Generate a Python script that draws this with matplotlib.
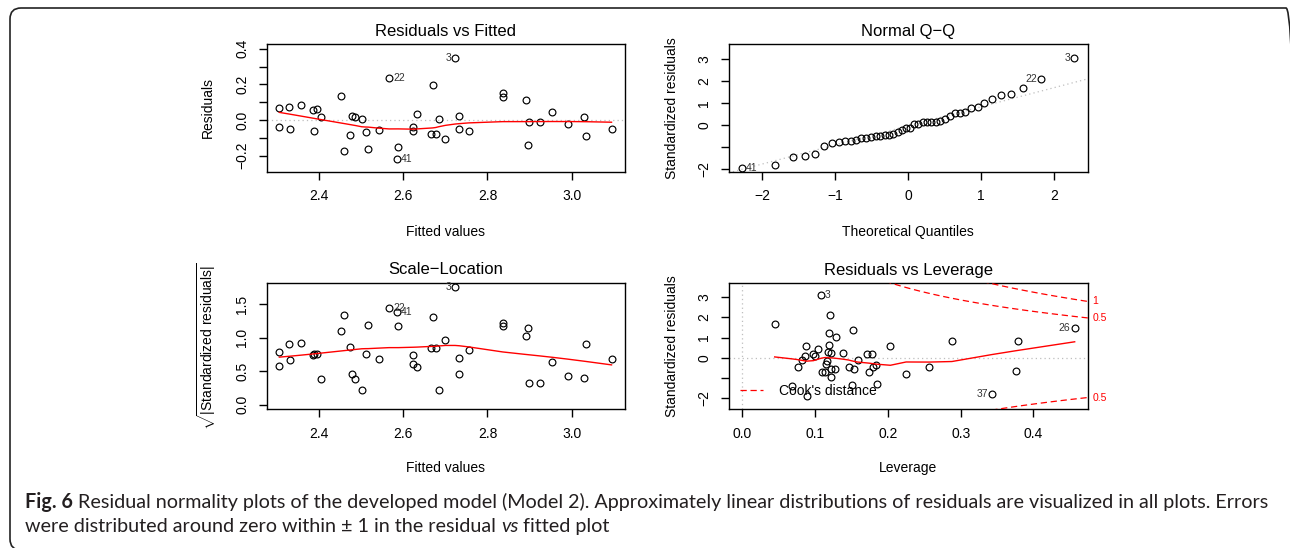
import numpy as np
import matplotlib
matplotlib.use("Agg")
import matplotlib.pyplot as plt
from matplotlib.patches import FancyBboxPatch
from matplotlib.transforms import IdentityTransform
from matplotlib.ticker import FixedLocator, FixedFormatter
from matplotlib.lines import Line2D
from statistics import NormalDist

W, H = 1290, 548
plt.rcParams['font.family'] = ['Liberation Sans', 'DejaVu Sans']
plt.rcParams['mathtext.fontset'] = 'custom'
plt.rcParams['mathtext.rm'] = 'Liberation Sans'
plt.rcParams['mathtext.it'] = 'Liberation Sans:italic'

# ---------------- data ----------------
fitted = [2.305, 2.305, 2.329, 2.330, 2.356, 2.386, 2.395, 2.387, 2.405, 2.452,
          2.459, 2.472, 2.477, 2.486, 2.501, 2.510, 2.516, 2.541, 2.566, 2.588,
          2.585, 2.624, 2.624, 2.632, 2.670, 2.666, 2.677, 2.684, 2.700, 2.723,
          2.733, 2.733, 2.755, 2.836, 2.837, 2.891, 2.899, 2.897, 2.925, 2.953,
          2.991, 3.030, 3.035, 3.095]
residuals = [0.066, -0.039, 0.073, -0.052, 0.084, 0.058, 0.064, -0.064, 0.017, 0.137,
             -0.174, -0.084, 0.024, 0.019, 0.004, -0.066, -0.165, -0.056, 0.236, -0.154,
             -0.221, -0.041, -0.064, 0.034, 0.199, -0.081, -0.079, 0.004, -0.107, 0.350,
             0.022, -0.052, -0.064, 0.150, 0.129, 0.114, -0.013, -0.142, -0.011, 0.045,
             -0.022, 0.017, -0.088, -0.051]
sqrt_abs_std_resid = [0.78, 0.57, 0.90, 0.67, 0.92, 0.74, 0.75, 0.75, 0.39, 1.10,
                      1.34, 0.86, 0.46, 0.39, 0.22, 0.76, 1.19, 0.68, 1.44, 1.18,
                      1.38, 0.61, 0.74, 0.56, 1.31, 0.85, 0.85, 0.22, 0.97, 1.75,
                      0.46, 0.69, 0.81, 1.22, 1.18, 1.02, 0.33, 1.15, 0.33, 0.64,
                      0.42, 0.40, 0.91, 0.68]
qq_std_resid = [-1.92, -1.79, -1.42, -1.38, -1.30, -0.92, -0.82, -0.74, -0.71, -0.71,
                -0.67, -0.59, -0.56, -0.55, -0.48, -0.47, -0.45, -0.44, -0.38, -0.32,
                -0.21, -0.14, -0.11, 0.05, 0.06, 0.14, 0.14, 0.14, 0.17, 0.18,
                0.29, 0.41, 0.56, 0.56, 0.59, 0.80, 0.83, 1.00, 1.20, 1.36,
                1.44, 1.70, 2.09, 3.05]
leverage = [0.0444, 0.0683, 0.0760, 0.0820, 0.0857, 0.0875, 0.0884, 0.0977, 0.1000, 0.1040,
            0.1077, 0.1090, 0.1136, 0.1150, 0.1163, 0.1180, 0.1186, 0.1196, 0.1200, 0.1214,
            0.1214, 0.1218, 0.1278, 0.1290, 0.1383, 0.1460, 0.1500, 0.1516, 0.1540, 0.1590,
            0.1710, 0.1745, 0.1780, 0.1790, 0.1830, 0.1850, 0.2034, 0.2250, 0.2570, 0.2880,
            0.3430, 0.3765, 0.3790, 0.4567]
lev_std_resid = [1.69, -1.40, -0.46, -0.13, 0.07, 0.59, -1.91, 0.16, 0.07, 0.43,
                 3.09, -0.71, -0.71, -0.33, -0.16, 0.30, 0.63, 1.20, 2.09, 0.21,
                 -0.54, -0.94, -0.54, 1.04, 0.21, -0.44, -1.37, 1.37, -0.54, -0.10,
                 0.16, -0.71, 0.16, -0.46, -0.36, -1.28, 0.58, -0.81, -0.46, 0.84,
                 -1.79, -0.64, 0.81, 1.45]

# identified observations (index into the arrays above, label)
rvf_id_idx, rvf_id_txt = [29, 18, 20], ["3", "22", "41"]
qq_id_idx, qq_id_txt = [43, 42, 0], ["3", "22", "41"]
sl_id_idx, sl_id_txt = [29, 18, 20], ["3", "22", "41"]
lev_id_idx, lev_id_txt = [10, 40, 43], ["3", "37", "26"]

n_params = 7
cook_levels = [0.5, 1.0]

titles = ["Residuals vs Fitted", "Normal Q\u2212Q", "Scale\u2212Location", "Residuals vs Leverage"]
xlabels = ["Fitted values", "Theoretical Quantiles", "Fitted values", "Leverage"]
ylabels = ["Residuals", "Standardized residuals",
           r"$\sqrt{|\mathrm{Standardized\ residuals}|}$", "Standardized residuals"]

fit_xticks = [2.4, 2.6, 2.8, 3.0]
fit_xticklabels = ["2.4", "2.6", "2.8", "3.0"]
rvf_yticks = [-0.2, -0.1, 0.0, 0.1, 0.2, 0.3, 0.4]
rvf_yticklabels = ["\u22120.2", "", "0.0", "", "0.2", "", "0.4"]
qq_xticks = [-2, -1, 0, 1, 2]
qq_xticklabels = ["\u22122", "\u22121", "0", "1", "2"]
std_yticks = [-2, -1, 0, 1, 2, 3]
std_yticklabels = ["\u22122", "", "0", "1", "2", "3"]
sl_yticks = [0.0, 0.5, 1.0, 1.5]
sl_yticklabels = ["0.0", "0.5", "1.0", "1.5"]
lev_xticks = [0.0, 0.1, 0.2, 0.3, 0.4]
lev_xticklabels = ["0.0", "0.1", "0.2", "0.3", "0.4"]

caption_bold = "Fig. 6"
caption_line1 = (" Residual normality plots of the developed model (Model 2). Approximately linear "
                 "distributions of residuals are visualized in all plots. Errors")
caption_line2 = ["were distributed around zero within \u00b1 1 in the residual ", "vs", " fitted plot"]


# ---------------- helpers ----------------
def lowess(x, y, f=2/3, iters=3):
    x = np.asarray(x, float); y = np.asarray(y, float)
    o = np.argsort(x, kind="stable"); x = x[o]; y = y[o]
    n = len(x)
    ns = max(min(int(f * n + 1e-7), n), 2)
    rw = np.ones(n)
    ys = np.zeros(n)
    rng = x[-1] - x[0]
    for it in range(iters + 1):
        for i in range(n):
            d = np.abs(x - x[i])
            h = np.sort(d)[ns - 1]
            if h > 0:
                r = d / h
                w = np.where(r <= 0.999, (1 - r ** 3) ** 3, 0.0)
                w[r <= 0.001] = 1.0
            else:
                w = (d == 0).astype(float)
            w = w * rw
            if w.sum() <= 0:
                ys[i] = y[i]
                continue
            w = w / w.sum()
            a = np.sum(w * x)
            b = np.sum(w * (x - a) ** 2)
            if np.sqrt(b) > 0.001 * rng:
                ww = w * ((x[i] - a) / b * (x - a) + 1)
            else:
                ww = w
            ys[i] = np.sum(ww * y)
        if it == iters:
            break
        res = y - ys
        cmad = 6 * np.median(np.abs(res))
        if cmad < 1e-7 * np.mean(np.abs(y)):
            break
        r = np.abs(res) / cmad
        rw = np.where(r <= 0.999, (1 - r ** 2) ** 2, 0.0)
        rw[r <= 0.001] = 1.0
    return x, ys


fig = plt.figure(figsize=(W / 100, H / 100), dpi=100)
fig.patch.set_facecolor("white")

COL = [(266.7, 625.0), (728.7, 1088.0)]
ROW = [(44.3, 171.7), (282.5, 409.3)]
TITLE_Y = [31.7, 270.0]
XLAB_Y = [231.7, 468.3]
YLAB_X = [208.3, 671.7]


def fx(px):
    return px / W


def fy(py):
    return 1 - py / H


def make_axes(r, c):
    l, rr = COL[c]
    t, b = ROW[r]
    ax = fig.add_axes([fx(l), fy(b), (rr - l) / W, (b - t) / H])
    for s in ax.spines.values():
        s.set_linewidth(1.0)
        s.set_color("black")
    ax.tick_params(direction="out", length=6, width=1.0, labelsize=10, pad=6.5, color="black")
    ax.tick_params(axis="y", labelrotation=90)
    cx = (l + rr) / 2
    fig.text(fx(cx), fy(TITLE_Y[r]), titles[2 * r + c], ha="center", va="center", fontsize=12)
    fig.text(fx(cx), fy(XLAB_Y[r]), xlabels[2 * r + c], ha="center", va="center", fontsize=10)
    fig.text(fx(YLAB_X[c] - (2 if (r, c) == (1, 0) else 0)), fy((t + b) / 2), ylabels[2 * r + c],
             ha="center", va="center", rotation=90, fontsize=10)
    return ax


def set_ticks(ax, xt, xl, yt, yl):
    ax.xaxis.set_major_locator(FixedLocator(xt))
    ax.xaxis.set_major_formatter(FixedFormatter(xl))
    ax.yaxis.set_major_locator(FixedLocator(yt))
    ax.yaxis.set_major_formatter(FixedFormatter(yl))
    for lab in ax.get_yticklabels():
        lab.set_verticalalignment("center")


def points(ax, x, y):
    ax.plot(x, y, ls="none", marker="o", ms=4.9, mfc="none", mec="black", mew=0.85, zorder=3)


def id_labels(ax, x, y, idx, txt):
    x = np.asarray(x); y = np.asarray(y)
    mid = (x.min() + x.max()) / 2
    for i, t in zip(idx, txt):
        right = x[i] <= mid
        ax.annotate(t, (x[i], y[i]), xytext=(3.0 if right else -3.0, 0), textcoords="offset points",
                    ha="left" if right else "right", va="center", fontsize=7.5, color="#333333",
                    annotation_clip=False, zorder=5)


def dotted():
    return dict(color="#BEBEBE", lw=0.9, dashes=(1, 2.5), zorder=1)


RED = "#FF0000"

# ---- panel 1: Residuals vs Fitted ----
ax1 = make_axes(0, 0)
ax1.axhline(0, **dotted())
points(ax1, fitted, residuals)
lx, ly = lowess(fitted, residuals)
ax1.plot(lx, ly, color=RED, lw=1.0, zorder=4)
id_labels(ax1, fitted, residuals, rvf_id_idx, rvf_id_txt)
ax1.set_xlim(2.275, 3.127)
ax1.set_ylim(-0.2905, 0.4255)
set_ticks(ax1, fit_xticks, fit_xticklabels, rvf_yticks, rvf_yticklabels)

# ---- panel 2: Normal Q-Q ----
ax2 = make_axes(0, 1)
n = len(qq_std_resid)
theo = np.array([NormalDist().inv_cdf((i + 0.5) / n) for i in range(n)])
samp = np.sort(np.asarray(qq_std_resid))
q_y = np.percentile(samp, [25, 75])
q_x = np.array([NormalDist().inv_cdf(0.25), NormalDist().inv_cdf(0.75)])
slope = (q_y[1] - q_y[0]) / (q_x[1] - q_x[0])
inter = q_y[0] - slope * q_x[0]
ax2.axline((0, inter), slope=slope, **dotted())
points(ax2, theo, samp)
id_labels(ax2, theo, samp, qq_id_idx, qq_id_txt)
ax2.set_xlim(-2.457, 2.466)
ax2.set_ylim(-2.106, 3.68)
set_ticks(ax2, qq_xticks, qq_xticklabels, std_yticks, std_yticklabels)

# ---- panel 3: Scale-Location ----
ax3 = make_axes(1, 0)
points(ax3, fitted, sqrt_abs_std_resid)
lx, ly = lowess(fitted, sqrt_abs_std_resid)
ax3.plot(lx, ly, color=RED, lw=1.0, zorder=4)
id_labels(ax3, fitted, sqrt_abs_std_resid, sl_id_idx, sl_id_txt)
ax3.set_xlim(2.275, 3.127)
ax3.set_ylim(-0.07, 1.824)
set_ticks(ax3, fit_xticks, fit_xticklabels, sl_yticks, sl_yticklabels)

# ---- panel 4: Residuals vs Leverage ----
ax4 = make_axes(1, 1)
xlim4 = (-0.0188, 0.475)
ax4.set_xlim(*xlim4)
ax4.set_ylim(-2.55, 3.72)
points(ax4, leverage, lev_std_resid)
lx, ly = lowess(leverage, lev_std_resid)
ax4.plot(lx, ly, color=RED, lw=1.0, zorder=4)
ax4.axhline(0, **dotted())
ax4.axvline(0, **dotted())
lev_arr = np.asarray(leverage)
hh = np.linspace(min(lev_arr.min(), lev_arr.max() / 100), xlim4[1], 101)
for crit in cook_levels:
    cl = np.sqrt(crit * n_params * (1 - hh) / hh)
    ax4.plot(hh, cl, color=RED, lw=0.9, dashes=(5, 3), zorder=4)
    ax4.plot(hh, -cl, color=RED, lw=0.9, dashes=(5, 3), zorder=4)
xmax = min(0.99, xlim4[1])
ymult = np.sqrt(n_params * (1 - xmax) / xmax)
ylo, yhi = ax4.get_ylim()
for crit in cook_levels:
    for sgn in (-1, 1):
        yv = sgn * np.sqrt(crit) * ymult
        if ylo <= yv <= yhi:
            ax4.annotate(f"{crit:g}", xy=(1, yv), xycoords=("axes fraction", "data"),
                         xytext=(3, 0), textcoords="offset points", ha="left", va="center",
                         fontsize=7.5, color=RED, annotation_clip=False)
leg = ax4.legend([Line2D([], [], color=RED, lw=0.9, dashes=(5, 3))], ["Cook's distance"],
                 loc="lower left", frameon=False, fontsize=10, handlelength=1.65,
                 handletextpad=1.15, borderaxespad=0.0, borderpad=0.84)
leg.set_zorder(6)
id_labels(ax4, leverage, lev_std_resid, lev_id_idx, lev_id_txt)
set_ticks(ax4, lev_xticks, lev_xticklabels, std_yticks, std_yticklabels)

# ---------------- caption ----------------
CAP_FONT = ["Lato", "DejaVu Sans"]
CAP_COL = "#231F20"
x0, base1, base2 = 25.0, 507.7, 532.3
target_w = 1238.0
renderer = fig.canvas.get_renderer()


def chain(segments, y_px, size):
    arts = []
    x = x0
    for txt, kw in segments:
        t = fig.text(fx(x), fy(y_px), txt, fontsize=size, va="baseline", ha="left",
                     family=CAP_FONT, color=CAP_COL, **kw)
        bb = t.get_window_extent(renderer)
        x += bb.width
        arts.append(t)
    return arts, x - x0


seg1 = [(caption_bold, dict(weight="bold")), (caption_line1, {})]
seg2 = [(caption_line2[0], {}), (caption_line2[1], dict(style="italic")), (caption_line2[2], {})]
arts, w = chain(seg1, base1, 11.0)
size = 11.0 * target_w / w
for a in arts:
    a.remove()
chain(seg1, base1, size)
chain(seg2, base2, size)

# ---------------- frame ----------------
frame = FancyBboxPatch((10, H - 550), 1297 - 10, 550 - 8, boxstyle="round,pad=0,rounding_size=11",
                       transform=IdentityTransform(), fill=False, lw=1.2, ec="#222222")
fig.add_artist(frame)

fig.savefig("out.png", dpi=100, facecolor="white")
